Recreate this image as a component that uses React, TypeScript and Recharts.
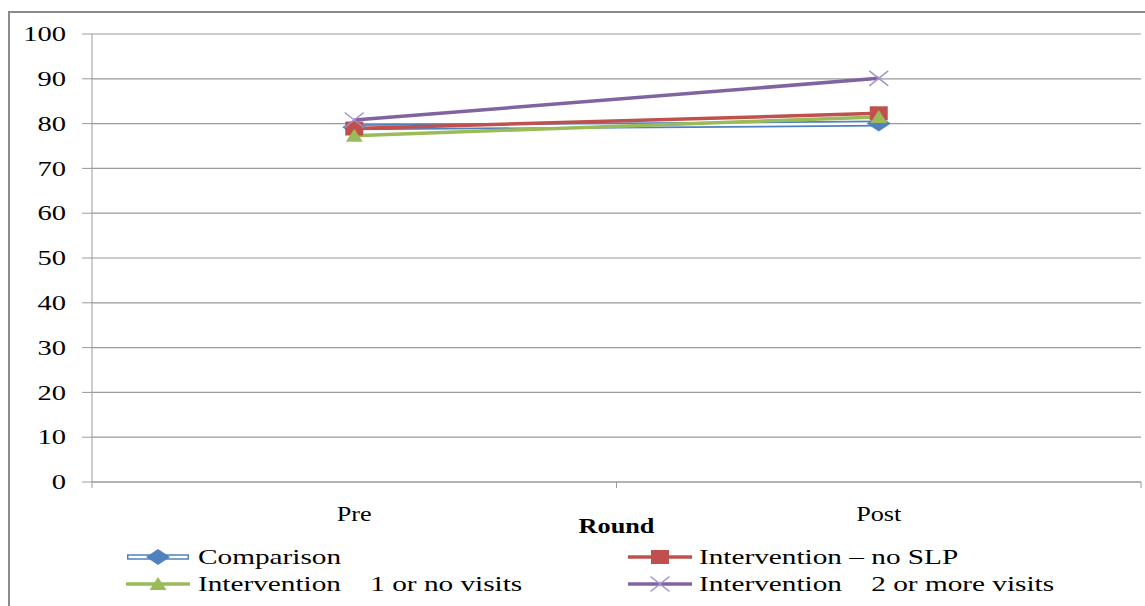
import { LineChart, Line, XAxis, YAxis, CartesianGrid } from 'recharts'

const rounds = ['Pre', 'Post']
const comparison = [79.2, 80.0]
const noSlp = [78.9, 82.3]
const oneOrNoVisits = [77.3, 81.5]
const twoPlusVisits = [80.8, 90.1]
const yTicks = [0, 10, 20, 30, 40, 50, 60, 70, 80, 90, 100]
const xTicks = [0, 0.5, 1, 1.5, 2]

const BLUE = '#4F81BD'
const RED = '#C0504D'
const GREEN = '#9BBB59'
const PURPLE = '#8064A2'
const PURPLE_X = '#a592c6'
const GRAY = '#9a9a9a'
const FONT = '"Liberation Serif", "Times New Roman", serif'
const STRETCH = 1.33

const data = rounds.map((r, i) => ({
    pos: i + 0.5,
    round: r,
    comparison: comparison[i],
    noSlp: noSlp[i],
    oneOrNoVisits: oneOrNoVisits[i],
    twoPlusVisits: twoPlusVisits[i],
}))

function Diamond({ cx, cy }: any) {
    return <polygon points={`${cx - 12},${cy} ${cx},${cy - 8} ${cx + 12},${cy} ${cx},${cy + 8}`} fill={BLUE} />
}
function Square({ cx, cy }: any) {
    return <rect x={cx - 9} y={cy - 7} width={18} height={14} fill={RED} />
}
function Triangle({ cx, cy }: any) {
    return <polygon points={`${cx},${cy - 7} ${cx + 8.5},${cy + 6} ${cx - 8.5},${cy + 6}`} fill={GREEN} />
}
function Cross({ cx, cy }: any) {
    return (
        <g stroke={PURPLE_X} strokeWidth={1.5}>
            <line x1={cx - 9.5} y1={cy - 7.5} x2={cx + 9.5} y2={cy + 7.5} />
            <line x1={cx - 9.5} y1={cy + 7.5} x2={cx + 9.5} y2={cy - 7.5} />
        </g>
    )
}

const series = [
    { key: 'comparison', name: 'Comparison', color: BLUE, Marker: Diamond },
    { key: 'noSlp', name: 'Intervention – no SLP', color: RED, Marker: Square },
    { key: 'oneOrNoVisits', name: 'Intervention    1 or no visits', color: GREEN, Marker: Triangle },
    { key: 'twoPlusVisits', name: 'Intervention    2 or more visits', color: PURPLE, Marker: Cross },
]

function YTick({ x, y, payload }: any) {
    return (
        <g transform={`translate(${x},${y})`}>
            <text transform={`scale(1.36,1)`} textAnchor="end" dominantBaseline="central" fontSize={21} fontFamily={FONT} fill="#000">
                {payload.value}
            </text>
        </g>
    )
}

function XTick({ x, y, payload }: any) {
    const v = payload.value
    if (Number.isInteger(v)) {
        return <line x1={x} y1={y} x2={x} y2={y + 6} stroke={GRAY} />
    }
    return (
        <g transform={`translate(${x},${y + 32})`}>
            <text transform={`scale(1.25,1)`} textAnchor="middle" dominantBaseline="central" fontSize={21} fontFamily={FONT} fill="#000">
                {rounds[Math.floor(v)]}
            </text>
        </g>
    )
}

function RoundLabel({ viewBox }: any) {
    const cx = viewBox.x + viewBox.width / 2
    return (
        <g transform={`translate(${cx},${viewBox.y + 44})`}>
            <text transform={`scale(1.25,1)`} textAnchor="middle" dominantBaseline="central" fontSize={21} fontWeight="bold" fontFamily={FONT} fill="#000">
                Round
            </text>
        </g>
    )
}

function LegendIcon({ idx }: { idx: number }) {
    const s = series[idx]
    const M = s.Marker
    return (
        <svg width={66} height={20} style={{ display: 'block' }}>
            {idx === 0 ? (
                <g>
                    <line x1={2} y1={10} x2={64} y2={10} stroke={BLUE} strokeWidth={5.5} />
                    <line x1={3.5} y1={10} x2={62.5} y2={10} stroke="#fff" strokeWidth={2.5} />
                </g>
            ) : (
                <line x1={1} y1={10} x2={65} y2={10} stroke={s.color} strokeWidth={3.5} />
            )}
            <M cx={33} cy={10} />
        </svg>
    )
}

function ChartLegend() {
    const cols = [125, 627]
    const textCols = [198, 699]
    const rows = [557, 584]
    return (
        <>
            {series.map((s, i) => {
                const col = i % 2
                const row = Math.floor(i / 2)
                return (
                    <div key={s.key}>
                        <div style={{ position: 'absolute', left: cols[col], top: rows[row] - 10 }}>
                            <LegendIcon idx={i} />
                        </div>
                        <div
                            style={{
                                position: 'absolute',
                                left: textCols[col],
                                top: rows[row] - 14,
                                height: 28,
                                lineHeight: '28px',
                                fontSize: 22,
                                fontFamily: FONT,
                                whiteSpace: 'pre',
                                transform: `scale(${STRETCH},1)`,
                                transformOrigin: 'left center',
                                color: '#000',
                            }}
                        >
                            {s.name}
                        </div>
                    </div>
                )
            })}
        </>
    )
}

export default function App() {
    return (
        <div style={{ position: 'fixed', left: 0, top: 0, width: 1145, height: 606, overflow: 'hidden', background: '#fff' }}>
            <div
                style={{
                    position: 'absolute',
                    left: 8,
                    top: 11,
                    width: 1145,
                    height: 606,
                    borderLeft: '2px solid #8a8a8a',
                    borderTop: '2px solid #8a8a8a',
                }}
            />
            <div style={{ position: 'absolute', left: 10, top: 13 }}>
                <LineChart width={1135} height={593} data={data} margin={{ top: 21, right: 4, left: 0, bottom: 72 }}>
                    <CartesianGrid vertical={false} stroke={GRAY} strokeWidth={1.2} />
                    <XAxis
                        dataKey="pos"
                        type="number"
                        domain={[0, 2]}
                        ticks={xTicks}
                        interval={0}
                        tickSize={0}
                        tickMargin={0}
                        tickLine={false}
                        tick={XTick}
                        axisLine={{ stroke: GRAY }}
                        height={52}
                        label={{ content: RoundLabel }}
                    />
                    <YAxis
                        domain={[0, 100]}
                        ticks={yTicks}
                        interval={0}
                        width={82}
                        tickSize={10}
                        tickMargin={16}
                        tickLine={{ stroke: GRAY }}
                        axisLine={{ stroke: GRAY }}
                        tick={YTick}
                    />
                    <Line dataKey="comparison" stroke={BLUE} strokeWidth={6} dot={false} activeDot={false} isAnimationActive={false} legendType="none" />
                    <Line dataKey="comparison" name="Comparison" stroke="#fff" strokeWidth={2.5} dot={(p: any) => <Diamond key={p.index} {...p} />} activeDot={false} isAnimationActive={false} />
                    <Line dataKey="noSlp" name="Intervention – no SLP" stroke={RED} strokeWidth={3.5} dot={(p: any) => <Square key={p.index} {...p} />} activeDot={false} isAnimationActive={false} />
                    <Line dataKey="oneOrNoVisits" name="Intervention 1 or no visits" stroke={GREEN} strokeWidth={3.5} dot={(p: any) => <Triangle key={p.index} {...p} />} activeDot={false} isAnimationActive={false} />
                    <Line dataKey="twoPlusVisits" name="Intervention 2 or more visits" stroke={PURPLE} strokeWidth={3.5} dot={(p: any) => <Cross key={p.index} {...p} />} activeDot={false} isAnimationActive={false} />
                </LineChart>
            </div>
            <ChartLegend />
        </div>
    )
}
